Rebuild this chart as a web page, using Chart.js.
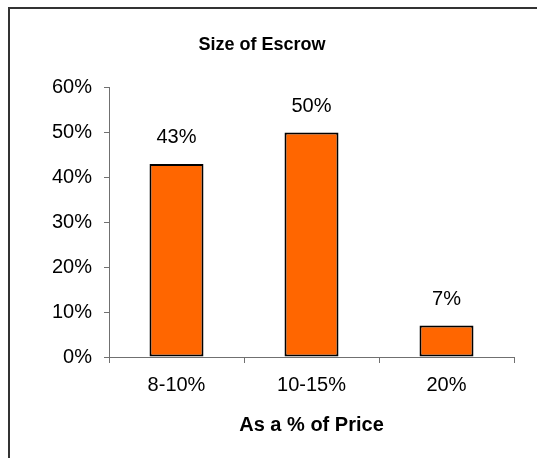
<!DOCTYPE html>
<html>
<head>
<meta charset="utf-8">
<script src="https://cdn.jsdelivr.net/npm/chart.js@4/dist/chart.umd.min.js"></script>
<style>
  html, body { margin: 0; padding: 0; background: #fff; }
  #wrap { position: relative; width: 537px; height: 458px; overflow: hidden; }
  #frame {
    position: absolute; left: 8px; top: 7px; width: 600px; height: 500px;
    border-top: 2px solid #333; border-left: 2px solid #333;
  }
  #mycanvas { position: absolute; left: 0; top: 0; }
</style>
</head>
<body>
<div id="wrap">
  <div id="frame"></div>
  <canvas id="mycanvas" width="537" height="458"></canvas>
</div>
<script>
var categories = ['8-10%', '10-15%', '20%'];
var shares = [43, 50, 7];
var tickValues = [0, 10, 20, 30, 40, 50, 60];

// writes the percentage above each bar
var barLabels = {
  id: 'barLabels',
  afterDatasetsDraw: function(chart) {
    var ctx = chart.ctx;
    var meta = chart.getDatasetMeta(0);
    ctx.save();
    ctx.font = '20px "Liberation Sans", Arial, sans-serif';
    ctx.fillStyle = '#000';
    ctx.textAlign = 'center';
    ctx.textBaseline = 'middle';
    meta.data.forEach(function(bar, i) {
      ctx.fillText(shares[i] + '%', bar.x, bar.y - 26);
    });
    ctx.restore();
  }
};

var font = { family: '"Liberation Sans", Arial, sans-serif', size: 20 };

var ctx = document.getElementById('mycanvas');
var barGraph = new Chart(ctx, {
  type: 'bar',
  data: {
    labels: categories,
    datasets: [{
      data: shares,
      backgroundColor: '#FF6600',
      borderColor: '#000',
      borderWidth: 2,
      borderSkipped: false,
      barPercentage: 0.4,
      categoryPercentage: 1
    }]
  },
  options: {
    responsive: false,
    animation: false,
    layout: { padding: { left: 10, right: 23, top: 0, bottom: 21 } },
    plugins: {
      legend: { display: false },
      tooltip: { enabled: false },
      title: {
        display: true,
        text: 'Size of Escrow',
        color: '#000',
        font: { family: font.family, size: 18, weight: 'bold' },
        padding: { top: 34, bottom: 32 }
      }
    },
    scales: {
      x: {
        grid: {
          offset: true,
          drawOnChartArea: false,
          drawTicks: true,
          tickLength: 6,
          color: '#707070'
        },
        border: { color: '#707070', width: 1 },
        ticks: { color: '#000', font: font, padding: 10 },
        title: {
          display: true,
          text: 'As a % of Price',
          color: '#000',
          font: { family: font.family, size: 20, weight: 'bold' },
          padding: { top: 6, bottom: 0 }
        }
      },
      y: {
        min: 0,
        max: 60,
        afterBuildTicks: function(scale) {
          scale.ticks = tickValues.map(function(v) { return { value: v }; });
        },
        afterFit: function(scale) { scale.width = 99; },
        grid: {
          drawOnChartArea: false,
          drawTicks: true,
          tickLength: 5,
          color: '#707070'
        },
        border: { color: '#707070', width: 1 },
        ticks: {
          color: '#000',
          font: font,
          padding: 12,
          callback: function(v) { return v + '%'; }
        }
      }
    }
  },
  plugins: [barLabels]
});
</script>
</body>
</html>
